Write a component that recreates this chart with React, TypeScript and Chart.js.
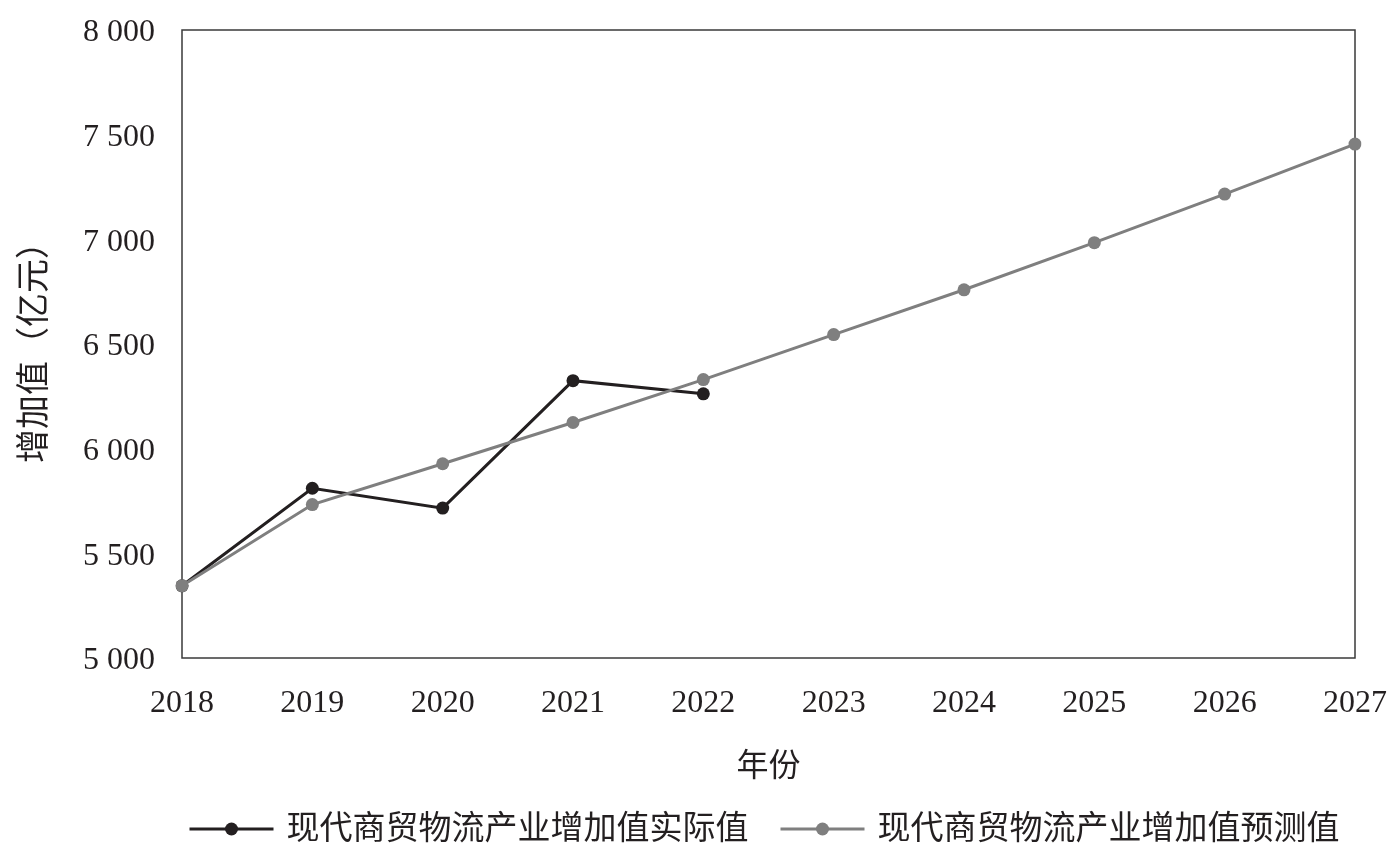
import React, { useEffect, useRef } from "react";
import { Chart, registerables } from "chart.js";

Chart.register(...registerables);

const years = ["2018", "2019", "2020", "2021", "2022", "2023", "2024", "2025", "2026", "2027"];
const actualValues = [5345, 5811, 5716, 6325, 6262, null, null, null, null, null];
const forecastValues = [5345, 5733, 5928, 6125, 6330, 6545, 6759, 6984, 7216, 7455];
const yMin = 5000;
const yMax = 8000;
const yStep = 500;
const seriesNames = ["现代商贸物流产业增加值实际值", "现代商贸物流产业增加值预测值"];
const xTitle = "年份";
const yTitle = "增加值（亿元）";

const FONT = "'Liberation Serif', 'Times New Roman', 'Noto Sans CJK SC', serif";
const TEXT = "#231f20";
const BLACK = "#231f20";
const GRAY = "#7f7f7f";

const framePlugin = {
  id: "frame",
  beforeDatasetsDraw(chart: any) {
    const { ctx, chartArea: a } = chart;
    ctx.save();
    ctx.strokeStyle = "#3a3a3a";
    ctx.lineWidth = 1.5;
    ctx.strokeRect(a.left, a.top, a.right - a.left, a.bottom - a.top);
    ctx.restore();
  },
};

const legendPlugin = {
  id: "lineLegend",
  afterDraw(chart: any) {
    const { ctx, chartArea: a } = chart;
    ctx.save();
    ctx.font = `33px ${FONT}`;
    const lineLen = 84;
    const gapText = 13;
    const gapItems = 32;
    const items = chart.data.datasets.map((ds: any) => ({
      label: ds.label,
      color: ds.borderColor,
      w: ctx.measureText(ds.label).width,
    }));
    const total =
      items.reduce((s: number, it: any) => s + lineLen + gapText + it.w, 0) + gapItems * (items.length - 1);
    let x = (a.left + a.right) / 2 - 4 - total / 2;
    const y = chart.height - 22;
    ctx.textBaseline = "middle";
    ctx.textAlign = "left";
    for (const it of items) {
      ctx.strokeStyle = it.color;
      ctx.lineWidth = 3;
      ctx.beginPath();
      ctx.moveTo(x, y);
      ctx.lineTo(x + lineLen, y);
      ctx.stroke();
      ctx.fillStyle = it.color;
      ctx.beginPath();
      ctx.arc(x + lineLen / 2, y, 6.5, 0, Math.PI * 2);
      ctx.fill();
      x += lineLen + gapText;
      ctx.fillStyle = TEXT;
      ctx.fillText(it.label, x, y + 1);
      x += it.w + gapItems;
    }
    ctx.restore();
  },
};

export default function App() {
  const ref = useRef<HTMLCanvasElement | null>(null);

  useEffect(() => {
    document.body.style.margin = "0";
    const canvas = ref.current;
    if (!canvas) return;
    const chart = new Chart(canvas, {
      type: "line",
      data: {
        labels: years,
        datasets: [
          {
            label: seriesNames[0],
            data: actualValues,
            borderColor: BLACK,
            backgroundColor: BLACK,
            borderWidth: 3,
            pointRadius: 6.5,
            pointBorderWidth: 0,
            pointBackgroundColor: BLACK,
            tension: 0,
            spanGaps: false,
            order: 1,
          },
          {
            label: seriesNames[1],
            data: forecastValues,
            borderColor: GRAY,
            backgroundColor: GRAY,
            borderWidth: 3,
            pointRadius: 6.5,
            pointBorderWidth: 0,
            pointBackgroundColor: GRAY,
            tension: 0,
            order: 0,
          },
        ],
      },
      options: {
        responsive: false,
        animation: false,
        layout: { padding: { top: 30, right: 42, bottom: 53, left: 0 } },
        plugins: {
          legend: { display: false },
          tooltip: { enabled: false },
        },
        scales: {
          x: {
            offset: false,
            grid: { display: false, drawTicks: false },
            border: { display: false },
            ticks: {
              color: TEXT,
              font: { family: FONT, size: 32 },
              padding: 26,
              maxRotation: 0,
              autoSkip: false,
            },
            title: {
              display: true,
              text: xTitle,
              color: TEXT,
              font: { family: FONT, size: 32 },
              padding: { top: 0, bottom: 11 },
            },
            afterFit(scale: any) {
              scale.height = 140;
              scale.paddingLeft = 0;
              scale.paddingRight = 0;
            },
          },
          y: {
            min: yMin,
            max: yMax,
            grid: { display: false, drawTicks: false },
            border: { display: false },
            ticks: {
              stepSize: yStep,
              color: TEXT,
              font: { family: FONT, size: 32 },
              padding: 27,
              labelOffset: 3,
              callback: (v: any) => {
                const n = Number(v);
                const th = Math.floor(n / 1000);
                const rest = String(n % 1000).padStart(3, "0");
                return `${th} ${rest}`;
              },
            },
            title: {
              display: true,
              text: yTitle,
              color: TEXT,
              font: { family: FONT, size: 34 },
              padding: { top: 16, bottom: 0 },
            },
            afterFit(scale: any) {
              scale.width = 182;
              scale.paddingTop = 0;
              scale.paddingBottom = 0;
            },
          },
        },
      },
      plugins: [framePlugin, legendPlugin],
    });
    return () => chart.destroy();
  }, []);

  return (
    <canvas
      ref={ref}
      width={1397}
      height={851}
      style={{ display: "block", position: "fixed", left: 0, top: 0 }}
    />
  );
}
